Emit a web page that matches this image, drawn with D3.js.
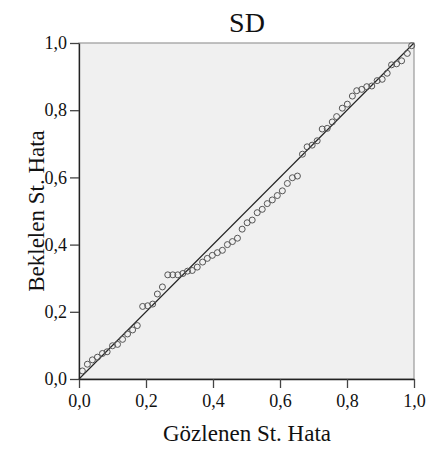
<!DOCTYPE html>
<html><head><meta charset="utf-8">
<script src="https://cdn.jsdelivr.net/npm/d3@7"></script>
<style>body{margin:0;background:#fff}svg{display:block}</style>
</head><body>
<script>
const title = "SD";
const xTitle = "Gözlenen St. Hata";
const yTitle = "Beklelen St. Hata";
const tickValues = [0, 0.2, 0.4, 0.6, 0.8, 1.0];
const observed = [0.010,0.025,0.040,0.055,0.070,0.084,0.100,0.115,0.130,0.145,0.160,0.174,0.190,0.205,0.220,0.234,0.249,0.265,0.280,0.295,0.310,0.324,0.338,0.353,0.369,0.383,0.398,0.413,0.428,0.443,0.458,0.473,0.487,0.502,0.517,0.532,0.547,0.562,0.577,0.592,0.607,0.622,0.637,0.652,0.667,0.681,0.696,0.711,0.726,0.741,0.756,0.769,0.786,0.801,0.816,0.829,0.844,0.859,0.874,0.890,0.905,0.920,0.933,0.948,0.963,0.980,0.993];
const expected = [0.024,0.044,0.057,0.065,0.076,0.081,0.099,0.103,0.118,0.134,0.146,0.159,0.216,0.218,0.223,0.253,0.274,0.310,0.310,0.310,0.314,0.321,0.323,0.333,0.348,0.359,0.368,0.376,0.383,0.400,0.409,0.419,0.446,0.465,0.473,0.495,0.505,0.522,0.533,0.546,0.560,0.582,0.599,0.604,0.669,0.691,0.696,0.709,0.744,0.746,0.765,0.781,0.806,0.818,0.842,0.858,0.862,0.870,0.872,0.888,0.892,0.910,0.935,0.938,0.947,0.969,0.992];

const W = 433, H = 452;
const svg = d3.select("body").append("svg").attr("width", W).attr("height", H);
const x = d3.scaleLinear().domain([0, 1]).range([79, 414]);
const y = d3.scaleLinear().domain([0, 1]).range([379, 43]);
const fmt = d => d3.format(".1f")(d).replace(".", ",");
const serif = "'Liberation Serif','Times New Roman',serif";

svg.append("rect").attr("x", x(0)).attr("y", y(1)).attr("width", x(1) - x(0)).attr("height", y(0) - y(1))
  .attr("fill", "#f0f0f0").attr("stroke", "#999").attr("stroke-width", 1.2);

svg.append("line").attr("x1", x(0)).attr("y1", y(0)).attr("x2", x(1)).attr("y2", y(1))
  .attr("stroke", "#222").attr("stroke-width", 1.1);

svg.append("g").selectAll("circle").data(observed.map((v, i) => [v, expected[i]])).join("circle")
  .attr("cx", d => x(d[0])).attr("cy", d => y(d[1])).attr("r", 3)
  .attr("fill", "none").attr("stroke", "#555").attr("stroke-width", 1);

const xAxis = svg.append("g").attr("transform", `translate(0,${y(0)})`)
  .call(d3.axisBottom(x).tickValues(tickValues).tickFormat(fmt).tickSize(9).tickSizeOuter(0));
const yAxis = svg.append("g").attr("transform", `translate(${x(0)},0)`)
  .call(d3.axisLeft(y).tickValues(tickValues).tickFormat(fmt).tickSize(9).tickSizeOuter(0));
[xAxis, yAxis].forEach(g => {
  g.selectAll("path").attr("stroke", "#222").attr("stroke-width", 1.3);
  g.selectAll("line").attr("stroke", "#444").attr("stroke-width", 1.3);
  g.selectAll("text").attr("font-family", serif).attr("font-size", 18).attr("fill", "#111");
});
xAxis.selectAll("text").attr("dy", "0.89em");
yAxis.selectAll("text").attr("dx", "0em");

svg.append("text").attr("x", 247).attr("y", 32).attr("text-anchor", "middle")
  .attr("font-family", serif).attr("font-size", 28).attr("fill", "#111").text(title);
svg.append("text").attr("x", 247).attr("y", 441).attr("text-anchor", "middle")
  .attr("font-family", serif).attr("font-size", 23).attr("fill", "#111").text(xTitle);
svg.append("text").attr("transform", "translate(44,211) rotate(-90)").attr("text-anchor", "middle")
  .attr("font-family", serif).attr("font-size", 23).attr("fill", "#111").text(yTitle);
</script>
</body></html>
